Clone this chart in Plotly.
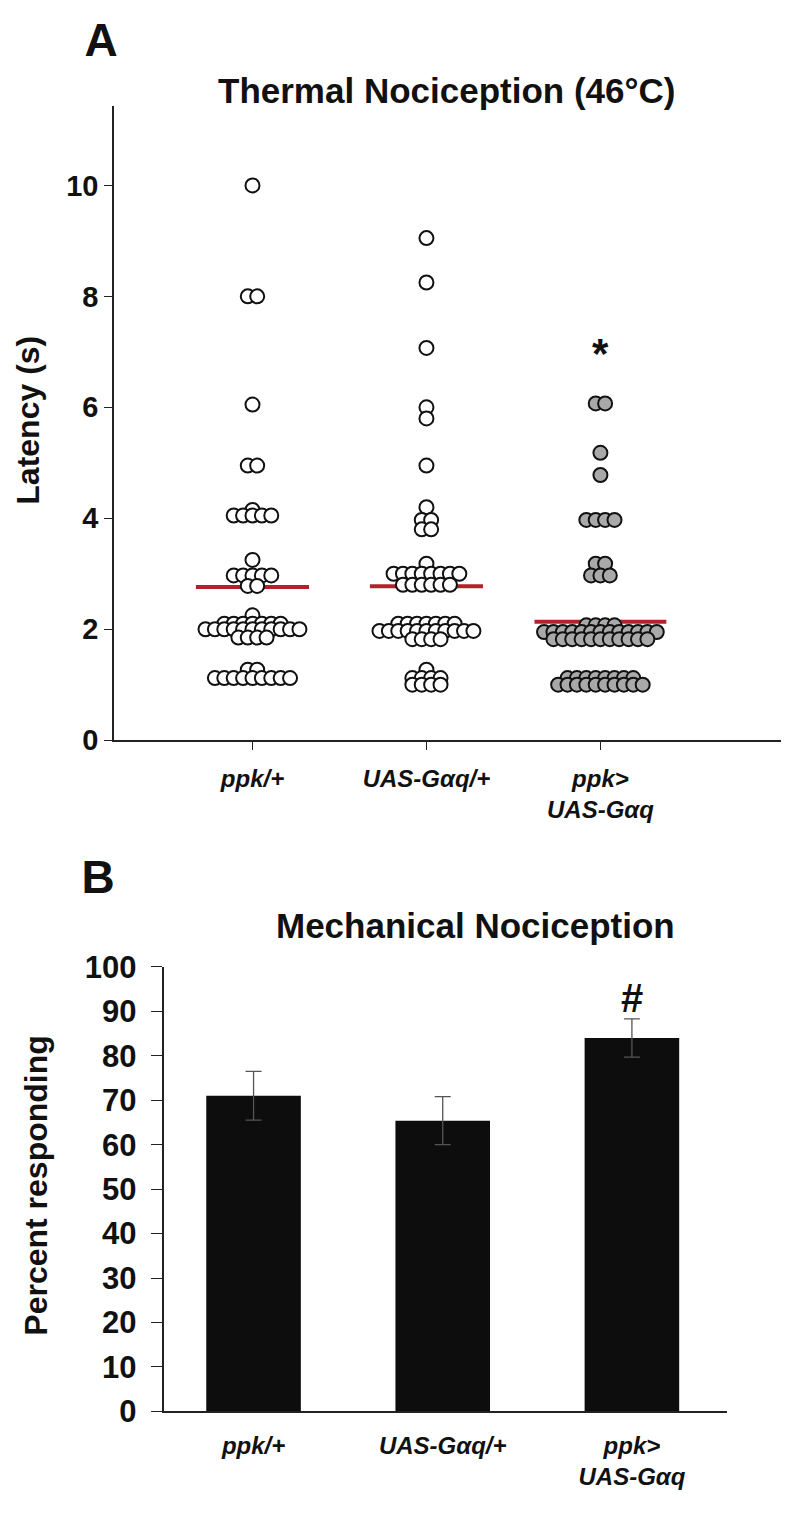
import plotly.graph_objects as go

# ---------------- data ----------------
categories_a = ["ppk/+", "UAS-Gαq/+", "ppk&gt;<br>UAS-Gαq"]
latency_ppk = [10.0, 8.0, 8.0, 6.05, 4.95, 4.95,
               4.15, 4.05, 4.05, 4.05, 4.05, 4.05,
               3.25, 2.97, 2.97, 2.97, 2.97, 2.97, 2.78, 2.78,
               2.25, 2.1, 2.1, 2.1, 2.1, 2.1, 2.1, 2.1,
               2.0, 2.0, 2.0, 2.0, 2.0, 2.0, 2.0, 2.0, 2.0, 2.0, 2.0,
               1.85, 1.85, 1.85, 1.85,
               1.27, 1.27, 1.12, 1.12, 1.12, 1.12, 1.12, 1.12, 1.12, 1.12, 1.12]
latency_uas = [9.05, 8.25, 7.07, 6.0, 5.8, 4.95,
               4.2, 3.97, 3.97, 3.8, 3.8,
               3.18, 3.0, 3.0, 3.0, 3.0, 3.0, 3.0, 3.0, 3.0,
               2.8, 2.8, 2.8, 2.8, 2.8, 2.8,
               2.1, 2.1, 2.1, 2.1, 2.1, 2.1, 2.1,
               1.97, 1.97, 1.97, 1.97, 1.97, 1.97, 1.97, 1.97, 1.97, 1.97, 1.97,
               1.82, 1.82, 1.82, 1.82,
               1.27, 1.12, 1.12, 1.12, 1.12, 1.0, 1.0, 1.0, 1.0]
latency_gaq = [6.07, 6.07, 5.18, 4.78,
               3.97, 3.97, 3.97, 3.97,
               3.18, 3.18, 2.97, 2.97, 2.97,
               2.07, 2.07, 2.07, 2.07,
               1.95, 1.95, 1.95, 1.95, 1.95, 1.95, 1.95, 1.95, 1.95, 1.95, 1.95, 1.95, 1.95,
               1.82, 1.82, 1.82, 1.82, 1.82, 1.82, 1.82, 1.82, 1.82, 1.82, 1.82,
               1.12, 1.12, 1.12, 1.12, 1.12, 1.12, 1.12, 1.12,
               1.0, 1.0, 1.0, 1.0, 1.0, 1.0, 1.0, 1.0, 1.0, 1.0]
groups_a = [latency_ppk, latency_uas, latency_gaq]
fills_a = ["white", "white", "#a9a9a9"]
yticks_a = [0, 2, 4, 6, 8, 10]

categories_b = ["ppk/+", "UAS-Gαq/+", "ppk&gt;<br>UAS-Gαq"]
percent_responding = [71.0, 65.4, 84.0]
percent_err = [5.5, 5.4, 4.3]
yticks_b = [0, 10, 20, 30, 40, 50, 60, 70, 80, 90, 100]

panel_letters = ["A", "B"]

# ---------------- figure ----------------
W, H = 789, 1523
FONT = "Liberation Sans"
fig = go.Figure()

DX = 0.054  # horizontal spacing of swarm dots (category units)

# mean lines (panel A), drawn behind the dots
for i, vals in enumerate(groups_a):
    m = sum(vals) / len(vals)
    widest = max(vals.count(v) for v in set(vals))
    half = (widest - 1) / 2 * DX + 0.055
    fig.add_trace(go.Scatter(x=[i - half, i + half], y=[m, m], mode="lines",
                             line=dict(color="#b3212b", width=4),
                             xaxis="x", yaxis="y", showlegend=False, hoverinfo="skip"))

# swarm dots (panel A)
for i, vals in enumerate(groups_a):
    xs, ys = [], []
    for v in sorted(set(vals), reverse=True):
        n = vals.count(v)
        for k in range(n):
            xs.append(i + (k - (n - 1) / 2) * DX)
            ys.append(v)
    fig.add_trace(go.Scatter(x=xs, y=ys, mode="markers",
                             marker=dict(size=14, color=fills_a[i],
                                         line=dict(color="#111", width=2)),
                             xaxis="x", yaxis="y", showlegend=False))

# bars (panel B)
fig.add_trace(go.Bar(x=[0, 1, 2], y=percent_responding, width=0.5,
                     marker=dict(color="#0d0d0d", line=dict(width=0)),
                     error_y=dict(type="data", array=percent_err, visible=True,
                                  color="#555555", thickness=1.3, width=8),
                     xaxis="x2", yaxis="y2", showlegend=False))

# panel letters, placed on a full-figure pixel frame
fig.add_trace(go.Scatter(x=[93, 90], y=[20, 877], mode="text",
                         text=[f"<b>{t}</b>" for t in panel_letters],
                         textposition="middle center", cliponaxis=False,
                         textfont=dict(family=FONT, size=46, color="#111"),
                         xaxis="x3", yaxis="y3", showlegend=False, hoverinfo="skip"))

axis_common = dict(showgrid=False, zeroline=False, showline=True, linecolor="#222",
                   linewidth=1.5, ticks="outside", tickcolor="#222", tickwidth=1.3,
                   tickfont=dict(family=FONT, size=29, color="#111", weight="bold"))

fig.update_layout(
    width=W, height=H, margin=dict(l=0, r=0, t=0, b=0),
    paper_bgcolor="white", plot_bgcolor="rgba(0,0,0,0)",
    xaxis=dict(axis_common, domain=[106 / W, 1.0], range=[-0.796, 3.13],
               tickvals=[0, 1, 2],
               ticktext=[f"<b><i>{c}</i></b>" for c in categories_a],
               ticklen=8, anchor="y", ticklabelstandoff=8,
               tickfont=dict(family=FONT, size=24, color="#111")),
    yaxis=dict(axis_common, domain=[1 - 732 / H, 1 - 83 / H], range=[0, 11.43],
               tickvals=yticks_a, ticklen=8, anchor="x", ticklabelstandoff=0),
    xaxis2=dict(axis_common, domain=[155.5 / W, 718.5 / W], range=[-0.476, 2.5],
                tickvals=[0, 1, 2],
                ticktext=[f"<b><i>{c}</i></b>" for c in categories_b],
                ticklen=0, ticks="", anchor="y2", ticklabelstandoff=12,
                tickfont=dict(family=FONT, size=24, color="#111")),
    yaxis2=dict(axis_common, domain=[1 - 1419 / H, 1 - 964 / H], range=[0, 100],
                tickvals=yticks_b, ticklen=11, anchor="x2", ticklabelstandoff=8,
                tickfont=dict(family=FONT, size=31, color="#111", weight="bold")),
    xaxis3=dict(domain=[0, 1], range=[0, W], visible=False, anchor="y3", fixedrange=True),
    yaxis3=dict(domain=[0, 1], range=[H, 0], visible=False, anchor="x3", fixedrange=True),
)

ann = [
    dict(text="<b>Thermal Nociception (46°C)</b>", x=438 / W, y=1 - 67 / H, size=35),
    dict(text="<b>Latency (s)</b>", x=20 / W, y=1 - 405 / H, size=32, angle=-90),
    dict(text="<b>Mechanical Nociception</b>", x=468 / W, y=1 - 922 / H, size=35),
    dict(text="<b>Percent responding</b>", x=28 / W, y=1 - 1188 / H, size=32, angle=-90),
]
for a in ann:
    fig.add_annotation(xref="paper", yref="paper", showarrow=False,
                       xanchor="center", yanchor="middle",
                       text=a["text"], x=a["x"], y=a["y"], textangle=a.get("angle", 0),
                       font=dict(family=FONT, color="#111", size=a["size"]))

# significance marks
fig.add_annotation(x=2, y=6.97, xref="x", yref="y", text="<b>*</b>", showarrow=False,
                   font=dict(family=FONT, size=42, color="#111"))
fig.add_annotation(x=2, y=93.0, xref="x2", yref="y2", text="<b>#</b>", showarrow=False,
                   font=dict(family=FONT, size=40, color="#111"))

fig.write_html("out.html")
